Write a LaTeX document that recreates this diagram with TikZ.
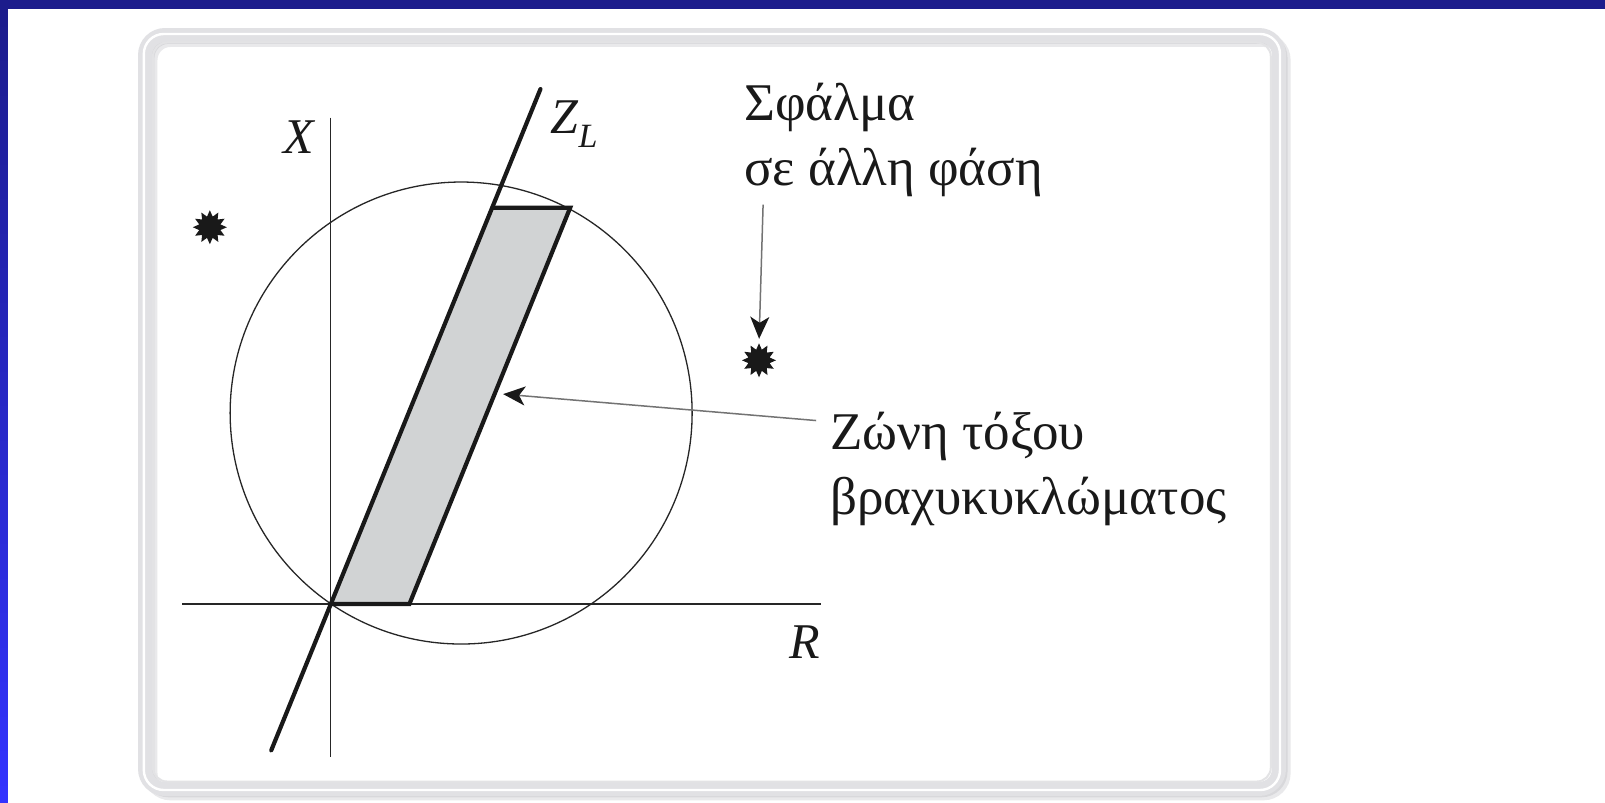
\documentclass[tikz,border=0pt]{standalone}
\usepackage{fontspec}
\setmainfont{Liberation Serif}
\usetikzlibrary{shapes.geometric,arrows.meta,calc}
\definecolor{navyband}{RGB}{28,28,140}
\definecolor{brightband}{RGB}{51,51,255}
\definecolor{framegray}{RGB}{225,225,228}
\definecolor{shadowgray}{RGB}{200,200,204}
\definecolor{bandfill}{RGB}{209,211,212}
\definecolor{arrowgray}{RGB}{115,115,115}
\tikzset{
  thinaxis/.style={line width=1.4pt, black!85},
  thickline/.style={line width=4.2pt, black!90, line cap=round},
  burst/.style={star, star points=12, star point ratio=1.55, fill=black!90, draw=none, minimum size=34pt, inner sep=0pt},
  lbl/.style={inner sep=0pt, font=\fontsize{53}{65}\selectfont, text=black!90},
  ilbl/.style={inner sep=0pt, font=\fontsize{50}{64}\selectfont\itshape, text=black!90},
  pointer/.style={line width=1.5pt, arrowgray, -{Stealth[length=22pt,width=19pt,inset=6pt,black!90]}},
}
\begin{document}
\begin{tikzpicture}[x=1.0236pt,y=-1.0236pt]
\useasboundingbox (0,0) rectangle (1568,784);
% background
\fill[white] (0,0) rectangle (1568,784);
\fill[navyband] (0,0) rectangle (1568,8.8);
\shade[top color=navyband, bottom color=brightband] (0,8.8) rectangle (7.8,784);
% frame with shadow
\draw[shadowgray!40, line width=14pt, rounded corners=20pt] (147,39) rectangle (1254,775);
\draw[shadowgray!70, line width=12pt, rounded corners=20pt] (145,37) rectangle (1252,773);
\draw[framegray, line width=14pt, rounded corners=20pt] (141.7,34.2) rectangle (1249.5,770.8);
\draw[white, line width=2.4pt, rounded corners=20pt] (140.5,33.2) rectangle (1250.5,771.8);
\draw[shadowgray!50, line width=2pt, rounded corners=14pt] (149.5,41.5) rectangle (1241.5,763.5);
% geometry
\coordinate (O) at (323,590);
\coordinate (A) at (400,590);
\coordinate (B) at (557,203);
\coordinate (C) at (481,203);
\coordinate (xtop) at (323,115);
\coordinate (xbot) at (323,740);
\coordinate (rleft) at (178,590);
\coordinate (rright) at (802,590);
\coordinate (zbot) at (265,733);
\coordinate (ztop) at (528,87);
\coordinate (cc) at (450.5,403.5);
% zone
\fill[bandfill] (O) -- (A) -- (B) -- (C) -- cycle;
% circle
\draw[line width=1.3pt, black!85] (cc) circle[radius=231pt];
% axes
\draw[thinaxis] (xtop) -- (xbot);
\draw[thinaxis] (rleft) -- (rright);
% zone outline
\draw[thickline, line join=miter] (C) -- (B) -- (A) -- (O);
\draw[thickline] (zbot) -- (ztop);
% labels
\node[ilbl, anchor=base west] (xl) at (277,150) {X};
\node[ilbl, anchor=base west] (rl) at (771,643) {R};
\node[ilbl, anchor=base west] (zl) at (538,130) {Z\raisebox{-0.28em}{\fontsize{34}{34}\selectfont L}};
% stars
\node[burst] (s1) at (205,222) {};
\node[burst] (s2) at (741.5,352) {};
% texts (base anchor = last line)
\node[lbl, anchor=base west, align=left] (fault) at (727,181) {Σφάλμα\\σε άλλη φάση};
\node[lbl, anchor=base west, align=left] (zone) at (811,503) {Ζώνη τόξου\\βραχυκυκλώματος};
% arrows
\coordinate (a1) at (745.5,200);
\draw[pointer, shorten >=4pt] (a1) -- (s2.north);
\coordinate (zt) at (491.5,385);
\draw[pointer, shorten <=14pt] (zone.west |- 0,412) -- (zt);
\end{tikzpicture}
\end{document}
